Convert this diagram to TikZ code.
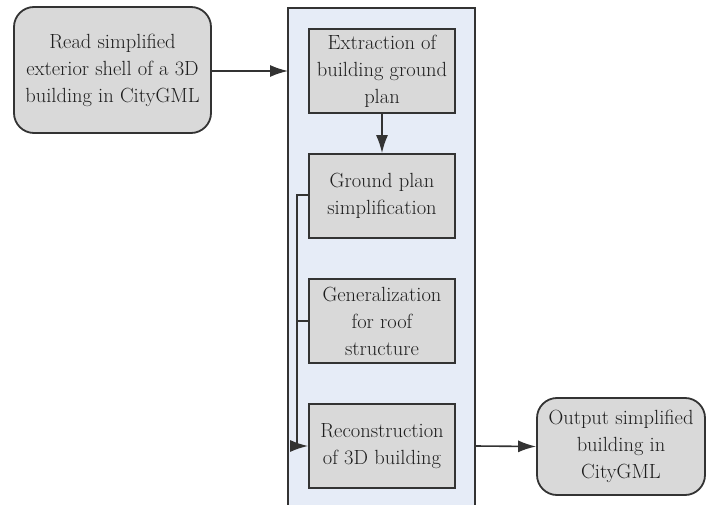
\documentclass[tikz,border=0pt]{standalone}
\usetikzlibrary{arrows.meta}
\definecolor{boxfill}{HTML}{D9D9D9}
\definecolor{panelfill}{HTML}{E6ECF7}
\definecolor{edge}{HTML}{333333}
\definecolor{ink}{HTML}{1E1E1E}
\begin{document}
\begin{tikzpicture}[x=1pt,y=-1pt,
  every node/.style={font=\fontsize{20.5}{27}\selectfont, text=ink, align=center},
  stepbox/.style={draw=edge, line width=1.8pt, fill=boxfill, minimum width=146pt, minimum height=84pt, inner sep=2pt},
  endbox/.style={draw=edge, line width=1.8pt, fill=boxfill, rounded corners=20pt, inner sep=2pt},
  flow/.style={draw=edge, line width=1.6pt, -{Latex[length=18pt,width=12pt]}},
  link/.style={draw=edge, line width=1.6pt}]
\useasboundingbox (0,0) rectangle (707,505);

% processing panel (open at the bottom)
\fill[panelfill] (288,8) rectangle (475,506);
\draw[edge, line width=1.8pt] (288,506) -- (288,8) -- (475,8) -- (475,506);
\coordinate (pin) at (288,71);
\coordinate (pout) at (475,446);

% input and output
\node[endbox, minimum width=197pt, minimum height=126pt] (read) at (112.5,70) {Read simplified\\exterior shell of a 3D\\building in CityGML};
\node[endbox, minimum width=168pt, minimum height=97pt] (out) at (621,446.5) {Output simplified\\building in\\CityGML};

% processing steps
\node[stepbox] (extract) at (382,71) {Extraction of\\building ground\\plan};
\node[stepbox] (simplify) at (382,196) {Ground plan\\simplification};
\node[stepbox] (roof) at (382,321) {Generalization\\for roof\\structure};
\node[stepbox] (recon) at (382,446) {Reconstruction\\of 3D building};

% connectors
\draw[flow] (read.east |- pin) -- (pin);
\draw[flow] (extract) -- (simplify);
\coordinate (bus) at (297,0);
\draw[flow] ([yshift=1pt]simplify.west) -| (bus |- recon.west) -- (recon.west);
\draw[link] (roof.west) -- (bus |- roof.west);
\draw[flow] (pout) -- (out.west);
\end{tikzpicture}
\end{document}
